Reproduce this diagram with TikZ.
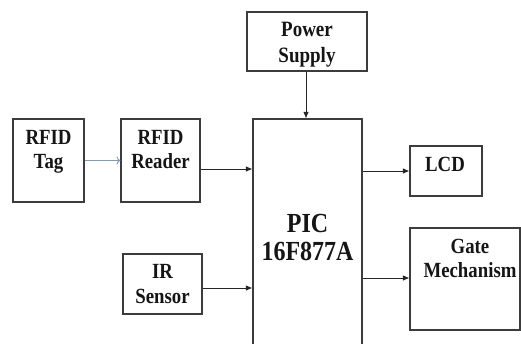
\documentclass[tikz,border=0pt]{standalone}
\usepackage{fontspec}
\setmainfont{Liberation Serif}
\usepackage{graphicx}
\usetikzlibrary{arrows.meta}
\definecolor{boxgray}{HTML}{3C3C3C}
\definecolor{txtcol}{HTML}{151515}
\definecolor{linkblue}{HTML}{7E9CC2}
\newcommand\lines[3]{\scalebox{1}[1.15]{\fontsize{#1}{#2}\selectfont\bfseries\begin{tabular}[t]{@{}c@{}}#3\end{tabular}}}
\begin{document}
\begin{tikzpicture}[x=1pt,y=-1pt,
  box/.style={draw=boxgray,line width=1.1pt,inner sep=0pt,fill=none},
  txt/.style={anchor=base,inner sep=0pt,text=txtcol},
  arr/.style={draw=black!85,line width=0.9pt,-{Latex[length=6.5pt,width=5.5pt]}},
  bluearr/.style={draw=linkblue,line width=0.9pt,-{To[length=4pt,width=8pt]}}]
\useasboundingbox[fill=white] (0,0) rectangle (521,343);
\clip (0,0) rectangle (521,343);
% boxes
\node[box,minimum width=71pt,minimum height=83pt] (tag) at (48.5,160.5) {};
\node[box,minimum width=79pt,minimum height=83pt] (reader) at (160.5,160.5) {};
\node[box,minimum width=120pt,minimum height=59pt] (power) at (307,41.5) {};
\node[box,minimum width=109pt,minimum height=240pt] (pic) at (307.5,239) {};
\node[box,minimum width=79pt,minimum height=60pt] (ir) at (162.5,284) {};
\node[box,minimum width=72pt,minimum height=50pt] (lcd) at (446,171) {};
\node[box,minimum width=110pt,minimum height=102pt] (gate) at (465,279) {};
% texts
\node[txt] (tagt) at (48.5,144) {\lines{18.8}{20.9}{RFID\\Tag}};
\node[txt] (readert) at (160.5,144) {\lines{18.8}{20.9}{RFID\\Reader}};
\node[txt] (powert) at (307,36.5) {\lines{19}{22.6}{Power\\Supply}};
\node[txt] (pict) at (307.5,232) {\lines{24}{25.2}{PIC\\16F877A}};
\node[txt] (irt) at (162.5,278) {\lines{18.8}{22.6}{IR\\Sensor}};
\node[txt] (lcdt) at (445,171) {\lines{18.8}{21}{LCD}};
\node[txt] (gatet) at (470,253) {\lines{18.8}{21.7}{Gate\\Mechanism}};
% connectors
\draw[bluearr] (tag.east) -- (reader.west);
\draw[arr] (reader.east |- 0,169) -- (pic.west |- 0,169);
\draw[arr] (ir.east |- 0,288) -- (pic.west |- 0,288);
\draw[arr] (power.south -| 306,0) -- (pic.north -| 306,0);
\draw[arr] (pic.east |- 0,171) -- (lcd.west |- 0,171);
\draw[arr] (pic.east |- 0,278) -- (gate.west |- 0,278);
\end{tikzpicture}
\end{document}
